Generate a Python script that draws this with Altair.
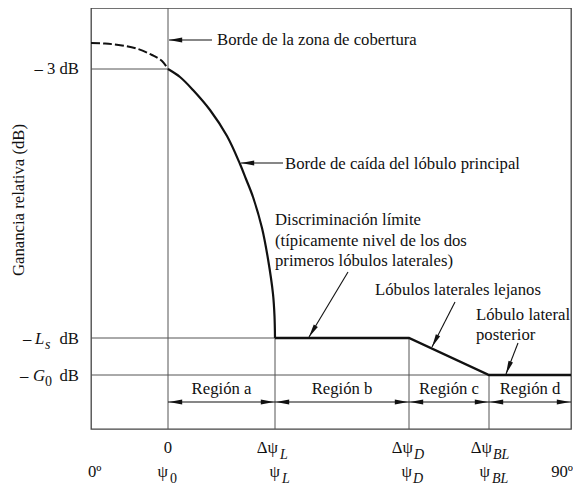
import math
import altair as alt
import pandas as pd

FONT = "Liberation Serif, Times New Roman, serif"
INK = "#111111"
GRID = "#555555"

# ---- schematic data (x: angular position units, y: relative gain units) ----
# main lobe inside the coverage zone (dashed)
lobe_dash_x = [0, 14, 31, 47, 61, 71, 77]
lobe_dash_y = [-39, -39.5, -41.5, -45, -51, -57, -65]
# main lobe roll-off (solid)
lobe_x = [77, 89, 102, 119, 136, 149, 155, 162, 171, 177, 182, 183.5, 184]
lobe_y = [-65, -73, -86, -106, -132, -160, -175, -193, -224, -255, -290, -312, -334]
# side-lobe envelope: plateau, far side lobes, back lobe
env_x = [184, 318, 398, 480]
env_y = [-334, -334, -371, -371]

# reference positions / levels
psi_0, psi_L, psi_D, psi_BL, psi_end = 77, 184, 318, 398, 480
lvl_3dB, lvl_Ls, lvl_G0 = -65, -334, -371
y_top, y_bot = -4, -425

# thin reference lines
rule_x = [0, 0, 0, psi_0, psi_L, psi_D, psi_BL]
rule_x2 = [psi_0, psi_L, psi_end, psi_0, psi_L, psi_D, psi_BL]
rule_y = [lvl_3dB, lvl_Ls, lvl_G0, y_top, lvl_Ls, lvl_Ls, lvl_G0]
rule_y2 = [lvl_3dB, lvl_Ls, lvl_G0, y_bot, y_bot, y_bot, y_bot]

# regions
region_names = ["Región a", "Región b", "Región c", "Región d"]
region_start = [psi_0, psi_L, psi_D, psi_BL]
region_end = [psi_L, psi_D, psi_BL, psi_end]
region_arrow_y = -398
region_label_y = -390

# annotation arrows (tail -> tip)
arr_tail_x = [121, 192, 257, 364, 427]
arr_tail_y = [-36, -159, -268, -298, -339]
arr_tip_x = [78, 150, 218, 341, 415]
arr_tip_y = [-36, -159, -333, -343, -370]

# annotation texts
annot_text = ["Borde de la zona de cobertura", "Borde de caída del lóbulo principal",
              "Discriminación límite", "(típicamente nivel de los dos",
              "primeros lóbulos laterales)", "Lóbulos laterales lejanos",
              "Lóbulo lateral", "posterior"]
annot_x = [126, 194, 184, 184, 184, 284, 385, 385]
annot_y = [-41, -165, -221, -242, -262, -291, -316, -336]

# axis-like labels: (text, x, y, kind)
tick_labels = [
    ("– 3 dB", -12, -70, "right"),
    ("–", -68, -340, "left"), ("L", -56, -340, "italic"), ("s", -46, -345, "sub_italic"), ("dB", -12, -340, "right"),
    ("–", -71, -377, "left"), ("G", -58, -377, "italic"), ("0", -46, -382, "sub"), ("dB", -12, -377, "right"),
    ("0", 77, -449, "center"),
    ("Δψ", 187, -449, "right"), ("L", 189, -455, "sub_italic"),
    ("Δψ", 322, -449, "right"), ("D", 323, -455, "sub_italic"),
    ("Δψ", 401, -449, "right"), ("BL", 402, -455, "sub_italic"),
    ("0º", -3, -473, "left"),
    ("ψ", 77, -473, "right"), ("0", 79, -479, "sub"),
    ("ψ", 189, -473, "right"), ("L", 191, -479, "sub_italic"),
    ("ψ", 321, -473, "right"), ("D", 322, -479, "sub_italic"),
    ("ψ", 399, -473, "right"), ("BL", 401, -479, "sub_italic"),
    ("90º", 482, -473, "right"),
]
y_title = "Ganancia relativa (dB)"

# ---- build tables ----
xsc = alt.Scale(domain=[0, psi_end], nice=False, zero=False)
ysc = alt.Scale(domain=[y_bot, y_top], nice=False, zero=False)
X = lambda f="x": alt.X(f"{f}:Q", scale=xsc, axis=None)
Y = lambda f="y": alt.Y(f"{f}:Q", scale=ysc, axis=None)

dash_df = pd.DataFrame({"x": lobe_dash_x, "y": lobe_dash_y, "o": range(len(lobe_dash_x))})
lobe_df = pd.DataFrame({"x": lobe_x, "y": lobe_y, "o": range(len(lobe_x))})
env_df = pd.DataFrame({"x": env_x, "y": env_y, "o": range(len(env_x))})
rules_df = pd.DataFrame({"x": rule_x, "x2": rule_x2, "y": rule_y, "y2": rule_y2})

arrows = []
heads = []
for tx, ty, px, py in zip(arr_tail_x, arr_tail_y, arr_tip_x, arr_tip_y):
    arrows.append({"x": tx, "y": ty, "x2": px, "y2": py})
    dx, dys = px - tx, -(py - ty)
    heads.append({"x": px, "y": py, "angle": math.degrees(math.atan2(dx, -dys)) % 360})
for s, e in zip(region_start, region_end):
    arrows.append({"x": s, "y": region_arrow_y, "x2": e, "y2": region_arrow_y})
    heads.append({"x": s + 1, "y": region_arrow_y, "angle": 270})
    heads.append({"x": e - 1, "y": region_arrow_y, "angle": 90})
arrows_df = pd.DataFrame(arrows)
heads_df = pd.DataFrame(heads)

texts = []
for t, x, y in zip(annot_text, annot_x, annot_y):
    texts.append({"t": t, "x": x, "y": y, "k": "left"})
for n, s, e in zip(region_names, region_start, region_end):
    texts.append({"t": n, "x": (s + e) / 2, "y": region_label_y, "k": "center"})
for t, x, y, k in tick_labels:
    texts.append({"t": t, "x": x, "y": y, "k": k})
texts_df = pd.DataFrame(texts)

styles = {
    "left": dict(fontSize=16.7, align="left"),
    "right": dict(fontSize=16.7, align="right"),
    "center": dict(fontSize=16.7, align="center"),
    "italic": dict(fontSize=16.7, align="left", fontStyle="italic"),
    "sub": dict(fontSize=14, align="left"),
    "sub_italic": dict(fontSize=14, align="left", fontStyle="italic"),
}

layers = []
layers.append(alt.Chart(rules_df).mark_rule(color=GRID, strokeWidth=1).encode(
    x=X(), x2="x2:Q", y=Y(), y2="y2:Q"))
layers.append(alt.Chart(dash_df).mark_line(color=INK, strokeWidth=2, strokeDash=[9, 3],
                                           interpolate="catmull-rom").encode(
    x=X(), y=Y(), order="o:Q"))
layers.append(alt.Chart(lobe_df).mark_line(color=INK, strokeWidth=2.2,
                                           interpolate="catmull-rom").encode(
    x=X(), y=Y(), order="o:Q"))
layers.append(alt.Chart(env_df).mark_line(color=INK, strokeWidth=2.4).encode(
    x=X(), y=Y(), order="o:Q"))
layers.append(alt.Chart(arrows_df).mark_rule(color=INK, strokeWidth=1.1).encode(
    x=X(), x2="x2:Q", y=Y(), y2="y2:Q"))
layers.append(alt.Chart(heads_df).mark_point(
    shape="M0,0L0.4,2.2L-0.4,2.2Z", filled=True, color=INK, opacity=1, size=144, strokeWidth=0
).encode(x=X(), y=Y(), angle=alt.Angle("angle:Q", scale=None)))

for k, st in styles.items():
    layers.append(alt.Chart(texts_df).transform_filter(alt.datum.k == k).mark_text(
        font=FONT, color=INK, baseline="alphabetic", **st
    ).encode(x=X(), y=Y(), text="t:N"))

title_df = pd.DataFrame({"t": [y_title], "x": [-67], "y": [-196]})
layers.append(alt.Chart(title_df).mark_text(
    font=FONT, color=INK, fontSize=16.7, angle=270, align="center", baseline="alphabetic"
).encode(x=X(), y=Y(), text="t:N"))

chart = alt.layer(*layers).properties(
    width=480, height=421,
    padding={"left": 83, "top": 0, "right": 2, "bottom": 60},
    autosize="none",
    background="white",
).configure_view(stroke="#444444", strokeWidth=1.3)

chart.save("out.html", embed_options={"renderer": "svg", "actions": False})
